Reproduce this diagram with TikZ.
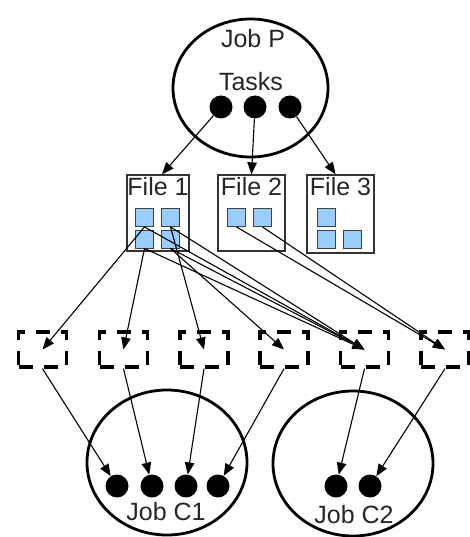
\documentclass[tikz,border=0pt]{standalone}
\usepackage{fontspec}
\setmainfont{Liberation Sans}
\usetikzlibrary{shapes.geometric,arrows.meta}
\definecolor{sq}{HTML}{99CCFF}
\begin{document}
\begin{tikzpicture}[x=1pt,y=-1pt,
  job/.style={draw,ellipse,line width=2.8pt,inner sep=0pt},
  dot/.style={circle,fill=black,inner sep=0pt,minimum size=23pt},
  filebox/.style={draw=black!80,line width=1.3pt,inner sep=0pt},
  sqbox/.style={draw=black!75,fill=sq,line width=0.9pt,inner sep=0pt,minimum size=18pt},
  dbox/.style={draw,line width=3.3pt,dash pattern=on 14pt off 11pt,inner sep=0pt,minimum width=48pt,minimum height=35pt},
  lab/.style={anchor=base,inner sep=0pt,text=black!85,font=\fontsize{25}{29}\selectfont},
  arr/.style={line width=1.1pt,-{Triangle[length=12pt,width=9.5pt]}}
]
\useasboundingbox (0,0) rectangle (469,537);
% Job P
\node[job,minimum width=155pt,minimum height=138pt] (jp) at (250.5,88) {};
\node[lab] (jpl) at (253,48) {Job P};
\node[lab] (tasks) at (251,91) {Tasks};
\node[dot] (p1) at (221,107) {};
\node[dot] (p2) at (255,107) {};
\node[dot] (p3) at (290,107) {};
% Files
\node[filebox,minimum width=62pt,minimum height=76pt] (f1) at (158,213) {};
\node[filebox,minimum width=67pt,minimum height=76pt] (f2) at (251.5,213) {};
\node[filebox,minimum width=67pt,minimum height=78pt] (f3) at (340.5,214) {};
\node[lab] (f1l) at (158,196) {File 1};
\node[lab] (f2l) at (251.5,196) {File 2};
\node[lab] (f3l) at (340.5,196) {File 3};
\node[sqbox] (s11) at (144.5,217.5) {};
\node[sqbox] (s12) at (170.5,217.5) {};
\node[sqbox] (s13) at (144.5,239) {};
\node[sqbox] (s14) at (170.5,239) {};
\node[sqbox] (s21) at (236.5,217.5) {};
\node[sqbox] (s22) at (262.5,217.5) {};
\node[sqbox] (s31) at (326,217.5) {};
\node[sqbox] (s32) at (326,239) {};
\node[sqbox] (s33) at (352,239) {};
% dashed boxes
\node[dbox] (d1) at (42.5,349.5) {};
\node[dbox] (d2) at (123.5,349.5) {};
\node[dbox] (d3) at (204,349.5) {};
\node[dbox] (d4) at (284,349.5) {};
\node[dbox] (d5) at (364.5,349.5) {};
\node[dbox] (d6) at (445,349.5) {};
% Job C1, C2
\node[job,minimum width=160pt,minimum height=145pt] (c1) at (167,462.5) {};
\node[job,minimum width=160pt,minimum height=145pt] (c2) at (353,463.5) {};
\node[dot] (a1) at (117,486) {};
\node[dot] (a2) at (152,486) {};
\node[dot] (a3) at (186,486) {};
\node[dot] (a4) at (218,486) {};
\node[dot] (b1) at (336,486) {};
\node[dot] (b2) at (370,486) {};
\node[lab] (c1l) at (166,520) {Job C1};
\node[lab] (c2l) at (354,523) {Job C2};
% arrows P -> files
\draw[arr] (p1) -- ([xshift=4pt]f1.north);
\draw[arr] (p2) -- (f2.north);
\draw[arr] (p3) -- ([xshift=-5pt]f3.north);
% arrows files -> dashed boxes
\draw[arr] (s11.south) -- (d1.center);
\draw[arr] (s11.south) -- (d5.center);
\draw[arr] (s12.south) -- (d3.center);
\draw[arr] (s12.south) -- (d5.center);
\draw[arr] (s13.south) -- (d2.center);
\draw[arr] (s13.south) -- (d5.center);
\draw[arr] (s14.south) -- (d4.center);
\draw[arr] (s14.south) -- (d5.center);
\draw[arr] (s21.south) -- (d6.center);
\draw[arr] (s22.south) -- (d6.center);
% arrows dashed boxes -> children
\draw[arr] (d1.south) -- (a1);
\draw[arr] (d2.south) -- (a2);
\draw[arr] (d3.south) -- (a3);
\draw[arr] (d4.south) -- (a4);
\draw[arr] (d5.south) -- (b1);
\draw[arr] (d6.south) -- (b2);
\end{tikzpicture}
\end{document}
